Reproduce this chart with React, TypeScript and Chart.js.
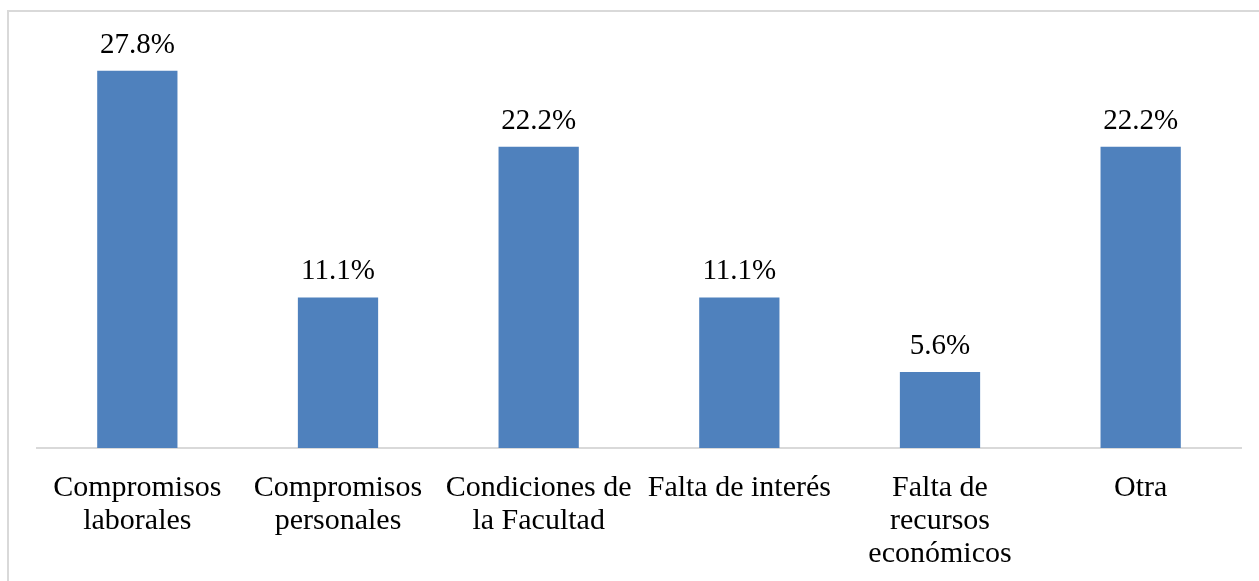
import React, { useEffect, useRef } from "react";
import { Chart, registerables } from "chart.js";

Chart.register(...registerables);

const categories: (string | string[])[] = [
  ["Compromisos", "laborales"],
  ["Compromisos", "personales"],
  ["Condiciones de", "la Facultad"],
  "Falta de interés",
  ["Falta de", "recursos", "económicos"],
  "Otra",
];
const values: number[] = [27.8, 11.1, 22.2, 11.1, 5.6, 22.2];
const valueLabels: string[] = ["27.8%", "11.1%", "22.2%", "11.1%", "5.6%", "22.2%"];

const FONT = "'Liberation Serif', 'DejaVu Serif', serif";

const dataLabelPlugin = {
  id: "dataLabels",
  afterDatasetsDraw(chart: any) {
    const ctx = chart.ctx;
    const meta = chart.getDatasetMeta(0);
    ctx.save();
    ctx.font = `29px ${FONT}`;
    ctx.fillStyle = "#000000";
    ctx.textAlign = "center";
    ctx.textBaseline = "alphabetic";
    meta.data.forEach((el: any, i: number) => {
      ctx.fillText(valueLabels[i], el.x, el.y - 18);
    });
    ctx.restore();
  },
};

export default function App() {
  const ref = useRef<HTMLCanvasElement>(null);
  useEffect(() => {
    if (!ref.current) return;
    const chart = new Chart(ref.current, {
      type: "bar",
      data: {
        labels: categories,
        datasets: [
          {
            data: values,
            backgroundColor: "#4F81BD",
            borderWidth: 0,
            barPercentage: 0.8,
            categoryPercentage: 0.5,
          },
        ],
      },
      options: {
        animation: false,
        responsive: false,
        maintainAspectRatio: false,
        layout: { padding: { left: 37, right: 18, top: 41, bottom: 0 } },
        plugins: { legend: { display: false }, tooltip: { enabled: false } },
        scales: {
          y: { display: false, min: 0, max: 30 },
          x: {
            grid: { display: false, drawTicks: false },
            border: { display: true, color: "#d9d9d9", width: 2 },
            ticks: {
              color: "#000000",
              font: { family: FONT, size: 30, lineHeight: 1.1 },
              padding: 24,
              maxRotation: 0,
              minRotation: 0,
              autoSkip: false,
            },
            afterFit: (s: any) => {
              s.height = 133;
            },
          },
        },
      },
      plugins: [dataLabelPlugin],
    });
    return () => chart.destroy();
  }, []);
  return (
    <div
      style={{
        position: "fixed",
        left: 0,
        top: 0,
        width: 1259,
        height: 581,
        overflow: "hidden",
        background: "#fff",
      }}
    >
      <div
        style={{
          position: "absolute",
          left: 7,
          top: 10,
          width: 1400,
          height: 800,
          border: "2px solid #d9d9d9",
        }}
      />
      <canvas
        ref={ref}
        width={1259}
        height={581}
        style={{ position: "absolute", left: 0, top: 0, width: 1259, height: 581 }}
      />
    </div>
  );
}
